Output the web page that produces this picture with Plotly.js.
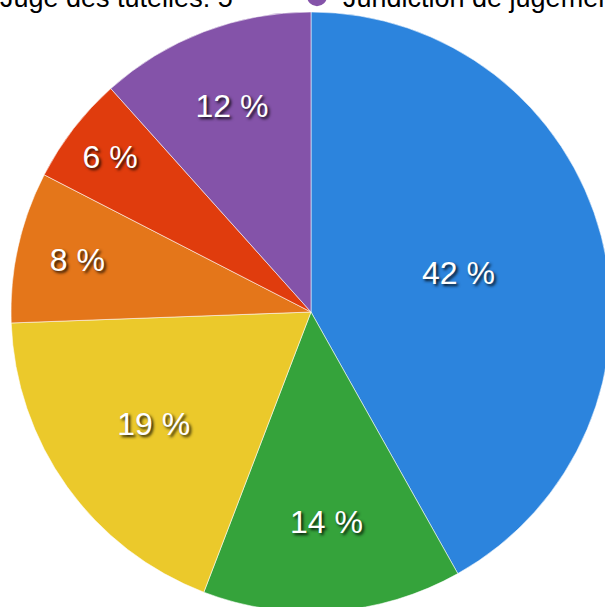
<!DOCTYPE html>
<html>
<head>
<meta charset="utf-8">
<script src="https://cdn.plot.ly/plotly-3.0.1.min.js"></script>
<style>
html, body { margin: 0; padding: 0; width: 605px; height: 607px; overflow: hidden; background: #fff; }
#chart { position: absolute; }
</style>
</head>
<body>
<div id="chart"></div>
<script>
// ---- data ----
const labels = ["Parquet", "Juge des enfants", "Juge d'instruction", "Juge aux affaires familiales", "Juge des tutelles", "Juridiction de jugement"];
const values = [36, 12, 16, 7, 5, 10];
const colors = ["#2c84dd", "#35a33b", "#ebc92b", "#e4761a", "#e03c0d", "#8453a9"];

// ---- geometry (the reference is a crop of a larger picture) ----
const OX = 100, OY = 140;           // crop offset of the visible window
const W = 900, H = 800;
const M = {l: 20, r: 20, t: 20, b: 20};
const CX = 311 + OX, CY = 312 + OY, R = 300;
const gw = W - M.l - M.r, gh = H - M.t - M.b;
const dom = {
  x: [(CX - R - M.l) / gw, (CX + R - M.l) / gw],
  y: [1 - (CY + R - M.t) / gh, 1 - (CY - R - M.t) / gh]
};
document.getElementById('chart').style.left = (-OX) + 'px';
document.getElementById('chart').style.top = (-OY) + 'px';

const total = values.reduce((a, b) => a + b, 0);
const pct = values.map(v => Math.round(v / total * 100));

const pie = {
  type: 'pie',
  labels: labels,
  values: values,
  customdata: pct,
  sort: false,
  direction: 'clockwise',
  rotation: 0,
  domain: dom,
  marker: {colors: colors, line: {color: 'rgba(255,255,255,0.55)', width: 1}},
  texttemplate: '%{customdata} %',
  textposition: 'inside',
  insidetextorientation: 'horizontal',
  insidetextfont: {family: 'Liberation Sans, Arial, sans-serif', size: 32, color: '#ffffff',
                   shadow: '2px 2px 3px rgba(0,0,0,0.85)'},
  hoverinfo: 'none',
  showlegend: false
};

const legendTraces = labels.map((lab, i) => ({
  type: 'scatter', mode: 'markers',
  x: [null], y: [null],
  name: lab + ': ' + values[i],
  marker: {color: colors[i], size: 16, line: {color: colors[i], width: 4}},
  hoverinfo: 'none',
  showlegend: true
}));

const legLeft = OX - 52;
const legBottom = OY + 21;

const layout = {
  width: W, height: H,
  margin: {l: M.l, r: M.r, t: M.t, b: M.b, autoexpand: false},
  paper_bgcolor: '#ffffff', plot_bgcolor: 'rgba(0,0,0,0)',
  showlegend: true,
  xaxis: {visible: false}, yaxis: {visible: false},
  legend: {
    orientation: 'h',
    x: (legLeft - M.l) / gw, xanchor: 'left',
    y: 1 - (legBottom - M.t) / gh, yanchor: 'bottom',
    itemwidth: 42,
    entrywidth: 286,
    entrywidthmode: 'pixels',
    font: {family: 'Liberation Sans, Arial, sans-serif', size: 27, color: '#000000'},
    bgcolor: 'rgba(0,0,0,0)'
  }
};

Plotly.newPlot('chart', [pie].concat(legendTraces), layout, {displayModeBar: false, staticPlot: true});
</script>
</body>
</html>
